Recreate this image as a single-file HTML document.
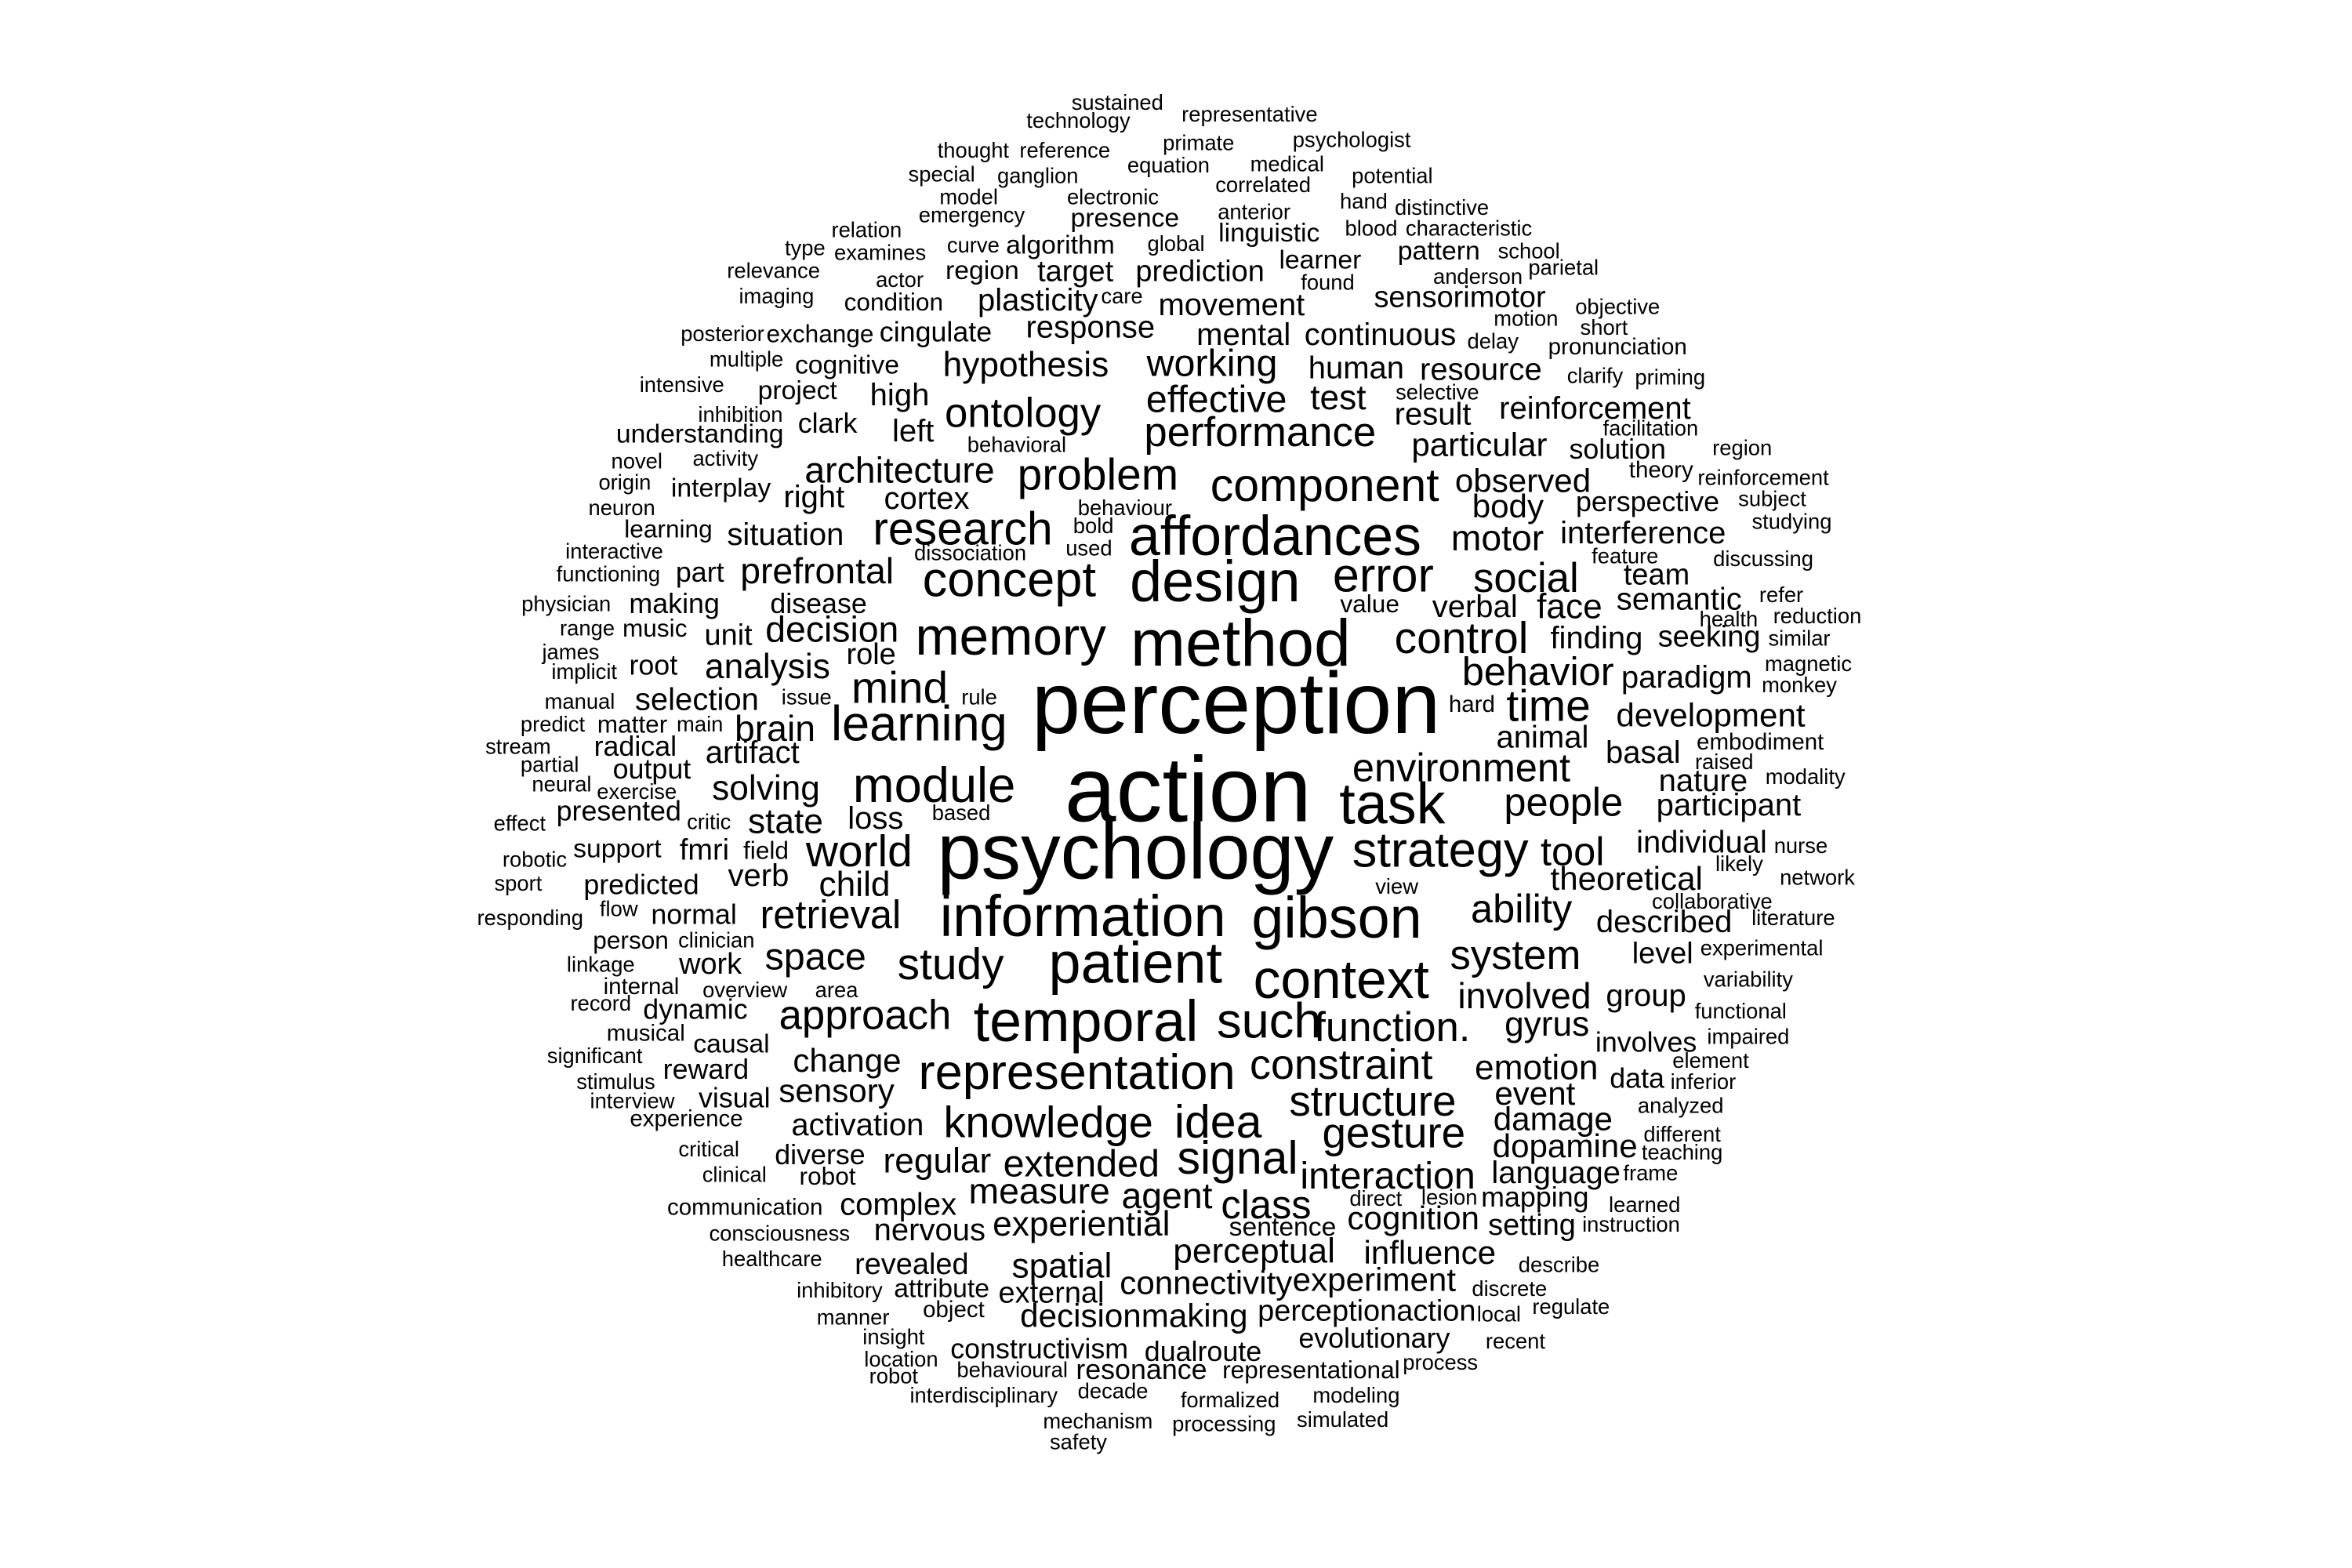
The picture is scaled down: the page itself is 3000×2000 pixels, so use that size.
<!DOCTYPE html>
<html><head><meta charset="utf-8">
<style>
html,body{margin:0;padding:0;background:#fff;}
svg{display:block;}
text{font-family:"Liberation Sans",Arial,sans-serif;fill:#000;}
</style></head>
<body>
<svg id="cloud" width="3000" height="2000" viewBox="0 0 1566 1044" preserveAspectRatio="none" xmlns="http://www.w3.org/2000/svg">
<rect width="1566" height="1044" fill="#fff"/>
</svg>
<script>
const words = ["sustained","technology","representative","thought","reference","primate","psychologist","special","ganglion","equation","medical","potential","model","electronic","correlated","hand","distinctive","emergency","presence","anterior","relation","linguistic","blood","characteristic","type","examines","curve","algorithm","global","learner","pattern","school","relevance","actor","region","target","prediction","found","anderson","parietal","imaging","condition","plasticity","care","movement","sensorimotor","motion","objective","short","posterior","exchange","cingulate","response","mental","continuous","delay","pronunciation","cognitive","multiple","hypothesis","working","human","resource","clarify","priming","intensive","project","high","effective","test","selective","inhibition","ontology","result","reinforcement","understanding","clark","left","activity","behavioral","performance","particular","facilitation","solution","region","novel","architecture","problem","component","theory","reinforcement","origin","interplay","right","cortex","observed","body","perspective","subject","neuron","behaviour","bold","research","affordances","studying","learning","situation","used","dissociation","motor","interference","interactive","feature","prefrontal","concept","design","error","social","team","discussing","functioning","part","semantic","physician","making","disease","value","verbal","face","health","refer","reduction","range","music","unit","decision","memory","method","control","finding","seeking","similar","james","root","analysis","role","behavior","paradigm","magnetic","implicit","mind","perception","hard","time","monkey","manual","selection","issue","rule","learning","development","predict","matter","main","brain","animal","basal","embodiment","stream","radical","artifact","action","environment","raised","partial","output","module","task","nature","modality","neural","exercise","solving","participant","presented","people","effect","critic","state","loss","based","psychology","robotic","support","fmri","field","world","strategy","tool","individual","nurse","likely","sport","predicted","verb","child","theoretical","network","view","collaborative","responding","flow","normal","retrieval","information","gibson","ability","described","literature","person","clinician","linkage","work","space","study","patient","system","level","experimental","internal","overview","area","context","involved","group","variability","record","dynamic","approach","temporal","such","function.","gyrus","functional","musical","causal","involves","impaired","significant","reward","change","representation","constraint","emotion","data","element","stimulus","sensory","structure","event","inferior","interview","visual","knowledge","idea","gesture","damage","analyzed","experience","activation","different","dopamine","critical","diverse","regular","signal","extended","teaching","interaction","language","clinical","robot","frame","communication","complex","measure","agent","class","direct","lesion","mapping","learned","consciousness","nervous","experiential","sentence","cognition","setting","instruction","healthcare","revealed","spatial","perceptual","influence","describe","inhibitory","attribute","external","connectivity","experiment","discrete","object","manner","decisionmaking","perceptionaction","local","regulate","insight","constructivism","evolutionary","recent","location","dualroute","process","robot","behavioural","resonance","representational","decade","interdisciplinary","formalized","modeling","mechanism","processing","simulated","safety"];
const sizes = [13,13,13,13,13,13,13,13,13,13,13,13,13,13,13,13,13,13,16,13,13,16,13,13,13,13,13,16,13,16,16,13,13,13,16,18,18,13,13,13,13,15,19,13,19,18,13,13,13,13,15,17,19,19,19,13,14,16,13,21,23,19,19,13,13,13,16,19,23,21,13,13,25,19,19,16,17,19,13,13,25,20,13,17,13,13,22,27,28,14,13,13,16,19,19,20,20,17,13,13,13,13,28,34,13,15,19,13,13,22,19,13,13,22,30,35,29,25,18,13,13,17,19,13,17,17,15,19,21,13,13,13,13,15,18,22,32,40,27,19,18,13,13,17,21,18,24,19,13,13,27,53,14,27,13,13,19,13,13,30,20,13,15,13,22,19,19,14,13,17,19,56,24,13,13,17,30,35,19,13,13,13,21,19,17,24,13,13,21,19,13,48,13,16,18,15,27,30,24,19,13,13,13,17,19,21,20,13,13,13,13,13,17,24,35,35,24,19,13,15,13,13,18,23,27,35,25,18,13,14,13,13,33,22,19,13,13,17,25,35,30,25,21,13,14,16,17,13,13,17,20,30,25.5,21,17,13,13,20,26,20,13,13,17,26.5,28,26,20,13,14,19,13,20,13,17,21,28,23,13,23,19,13,15,13,14,19,22,22,24,13,13,17,13,13,19,21,16,20,18,13,13,18,21,21,20,13,13,16,18,20,20,13,14,13,20,18,13,13,13,17,17,13,13,17,13,13,13,17,15,13,13,13,13,13,13,13,13];
const layout = [[744,68],[718,80],[832,76],[648,100],[709,100],[798,95],[900,93],[627,116],[691,117],[778,110],[857,109],[927,117],[645,131],[741,131],[841,123],[908,134],[960,138],[647,143],[749,145],[835,141],[577,153],[845,155],[913,152],[978,152],[536,165],[586,168],[648,163],[706,163],[783,162],[879,173],[958,167],[1018,167],[515,180],[599,186],[654,180],[716,181],[799,181],[884,188],[984,184],[1041,178],[517,197],[595,201],[691,200],[747,197],[820,203],[972,198],[1016,212],[1077,204],[1068,218],[481,222],[546,222],[623,221],[726,218],[828,223],[919,223],[994,227],[1077,231],[564,243],[497,239],[683,243],[807,242],[903,245],[986,246],[1062,250],[1112,251],[454,256],[531,260],[599,263],[810,266],[891,265],[957,261],[493,276],[681,275],[954,276],[1062,272],[466,289],[551,282],[608,287],[483,305],[677,296],[839,288],[985,296],[1099,285],[1077,299],[1160,298],[424,307],[599,313],[731,316],[882,323],[1106,313],[1174,318],[416,321],[480,325],[542,331],[617,332],[1014,320],[1004,337],[1097,334],[1180,332],[414,338],[749,338],[728,350],[641,352],[849,357],[1193,347],[445,352],[523,356],[725,365],[646,368],[997,358],[1094,355],[409,367],[1082,370],[544,380],[672,386],[809,387],[921,383],[1016,385],[1103,383],[1174,372],[405,382],[466,381],[1118,399],[377,402],[449,402],[545,402],[912,402],[982,404],[1045,404],[1151,412],[1186,396],[1210,410],[391,418],[436,418],[485,423],[554,419],[673,424],[826,428],[973,425],[1063,425],[1138,424],[1198,425],[380,434],[435,443],[511,444],[580,436],[1024,447],[1123,451],[1204,442],[389,447],[599,458],[823,468],[980,469],[1031,470],[1198,456],[386,467],[464,466],[537,464],[652,464],[612,482],[1139,476],[368,482],[421,482],[466,482],[516,485],[1027,491],[1094,501],[1172,494],[345,497],[423,497],[501,501],[791,526],[973,511],[1148,507],[366,509],[434,512],[622,523],[927,535],[1134,520],[1202,517],[374,522],[424,527],[510,525],[1151,536],[412,540],[1041,534],[346,548],[472,547],[523,547],[583,545],[640,541],[756,567],[356,572],[411,565],[469,566],[510,566],[572,567],[959,566],[1047,567],[1133,561],[1199,563],[1158,575],[345,588],[427,589],[505,583],[569,589],[1083,585],[1210,584],[930,590],[1140,600],[353,611],[412,605],[462,609],[553,609],[721,610],[890,611],[1013,605],[1108,614],[1194,611],[420,626],[477,626],[400,642],[473,642],[543,637],[633,642],[756,641],[1009,636],[1107,635],[1173,631],[427,657],[496,659],[557,659],[893,652],[1015,663],[1096,663],[1164,652],[400,668],[463,672],[576,676],[723,680],[845,680],[927,684],[1030,682],[1159,673],[430,688],[487,695],[1096,694],[1164,690],[396,703],[470,712],[564,706],[717,714],[893,709],[1023,711],[1090,718],[1139,706],[410,720],[557,726],[914,733],[1022,728],[1134,720],[421,733],[489,731],[698,747],[811,747],[928,754],[1034,745],[1119,736],[457,745],[571,749],[1120,755],[1042,763],[472,765],[546,769],[624,773],[824,771],[720,775],[1120,767],[924,783],[1036,781],[489,782],[551,783],[1099,781],[496,804],[598,802],[692,793],[777,796],[843,802],[916,798],[965,797],[1022,797],[1095,802],[519,821],[619,819],[720,815],[854,817],[941,811],[1020,816],[1086,815],[514,838],[607,842],[707,843],[835,833],[952,834],[1038,842],[559,859],[627,858],[700,861],[803,854],[915,852],[1005,858],[635,872],[568,877],[755,876],[910,873],[998,875],[1046,870],[595,890],[692,898],[915,891],[1009,893],[600,905],[801,900],[959,907],[595,916],[674,912],[760,912],[873,912],[741,926],[655,929],[819,932],[903,929],[731,946],[815,948],[894,945],[718,960]];
const SCALE = 1.1;
const svg = document.getElementById('cloud');
for (let i = 0; i < words.length; i++) {
  const t = document.createElementNS('http://www.w3.org/2000/svg', 'text');
  t.setAttribute('x', layout[i][0]);
  t.setAttribute('y', layout[i][1]);
  t.setAttribute('font-size', (sizes[i] * SCALE).toFixed(1));
  t.setAttribute('text-anchor', 'middle');
  t.setAttribute('dominant-baseline', 'central');
  t.textContent = words[i];
  
  
  svg.appendChild(t);
}
</script>
</body></html>
